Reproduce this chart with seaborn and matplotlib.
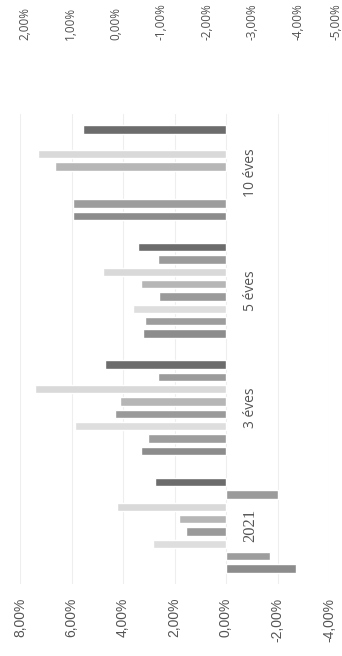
import numpy as np
import pandas as pd
import matplotlib
matplotlib.use("Agg")
import matplotlib.pyplot as plt
import seaborn as sns

# Categories along the bar axis (bottom to top) and the eight series
categories = ["2021", "3 éves", "5 éves", "10 éves"]
series_names = ["S1", "S2", "S3", "S4", "S5", "S6", "S7", "S8"]

# Yields in percent, one list per series, in category order
s1 = [-2.72, 3.31, 3.24, 5.95]
s2 = [-1.71, 3.02, 3.15, 5.93]
s3 = [2.85, 5.86, 3.60, np.nan]
s4 = [1.57, 4.31, 2.59, np.nan]
s5 = [1.81, 4.12, 3.31, 6.64]
s6 = [4.22, 7.42, 4.79, 7.29]
s7 = [-2.03, 2.63, 2.63, np.nan]
s8 = [2.76, 4.70, 3.41, 5.57]

series_colors = ["#8c8c8c", "#9d9d9d", "#dedede", "#9a9a9a",
                 "#b6b6b6", "#d9d9d9", "#9b9b9b", "#6c6c6c"]

primary_ticks = [8, 6, 4, 2, 0, -2, -4]
secondary_ticks = [2, 1, 0, -1, -2, -3, -4, -5]

rows = []
for name, vals in zip(series_names, [s1, s2, s3, s4, s5, s6, s7, s8]):
    for cat, v in zip(categories, vals):
        rows.append({"category": cat, "series": name, "value": v})
df = pd.DataFrame(rows)


def pct(v):
    return f"{v:.2f}".replace(".", ",") + "%"


sns.set_theme(style="white")
plt.rcParams["font.family"] = ["Liberation Sans", "DejaVu Sans"]

W, H = 342, 656
fig = plt.figure(figsize=(W / 100, H / 100), dpi=100)
fig.patch.set_facecolor("white")

ax = fig.add_axes([20 / W, 1 - 584 / H, 309 / W, 470 / H])
sns.barplot(data=df, y="category", x="value", hue="series",
            order=categories, hue_order=series_names,
            palette=series_colors, orient="h", width=0.84, gap=0.33,
            saturation=1, errorbar=None, legend=False, ax=ax)

ax.set_xlim(8, -4)
ax.set_ylim(-0.5, 3.5)
ax.set_xlabel("")
ax.set_ylabel("")
for sp in ax.spines.values():
    sp.set_visible(False)

ax.set_xticks(primary_ticks)
ax.set_xticklabels([pct(v) for v in primary_ticks], rotation=90,
                   fontsize=10, color="#555555",
                   fontfamily=["Liberation Sans", "DejaVu Sans"])
ax.tick_params(axis="x", length=0, pad=10)
ax.grid(axis="x", color="#eeeeee", lw=0.8)
ax.grid(axis="y", visible=False)
ax.set_axisbelow(True)

# Category labels sit next to the zero line
ax.yaxis.tick_right()
ax.spines["right"].set_position(("data", 0))
ax.tick_params(axis="y", length=0, pad=12)
for lbl in ax.get_yticklabels():
    lbl.set_rotation(90)
    lbl.set_va("center")
    lbl.set_color("#555555")
    if lbl.get_text() == "2021":
        lbl.set_fontfamily(["Liberation Serif", "DejaVu Serif"])
        lbl.set_fontsize(12)
    else:
        lbl.set_fontfamily(["Open Sans", "DejaVu Sans"])
        lbl.set_fontsize(10)

# Secondary value scale; the last label is nudged inward to stay on the canvas
ax2 = fig.add_axes([25 / W, 1 - 114 / H, 318 / W, 73 / H])
ax2.patch.set_visible(False)
for sp in ax2.spines.values():
    sp.set_visible(False)
ax2.set_xlim(2, -5)
ax2.set_yticks([])
ax2.xaxis.tick_top()
ax2.set_xticks(secondary_ticks[:-1])
ax2.set_xticklabels([pct(v) for v in secondary_ticks[:-1]], rotation=90,
                    fontsize=8.5, color="#505050",
                    fontfamily=["Open Sans", "DejaVu Sans"])
ax2.tick_params(axis="x", length=0, pad=1)
ax2.grid(False)
ax2.annotate(pct(secondary_ticks[-1]), xy=(secondary_ticks[-1], 1),
             xycoords=("data", "axes fraction"), xytext=(-5, 1),
             textcoords="offset points", rotation=90, ha="center",
             va="bottom", fontsize=8.5, color="#505050",
             fontfamily=["Open Sans", "DejaVu Sans"], annotation_clip=False)

fig.savefig("out.png", dpi=100, facecolor="white")
